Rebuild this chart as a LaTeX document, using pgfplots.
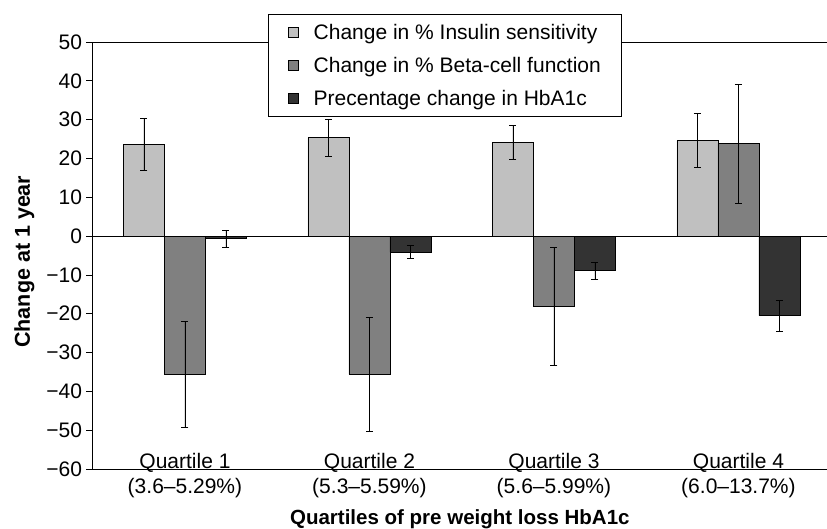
\documentclass[border=0pt]{standalone}
\usepackage{pgfplots}
\pgfplotsset{compat=1.18}
\usepackage{pgfplotstable}
\usepackage{fontspec}
\setmainfont{Liberation Sans}
\definecolor{cA}{HTML}{C0C0C0}
\definecolor{cB}{HTML}{808080}
\definecolor{cC}{HTML}{333333}
\pgfplotstableread{
x ins inse beta betae hb hbe
0 23.5 6.7 -35.6 13.6 -0.7 2.1
1 25.3 4.8 -35.6 14.6 -4.1 1.65
2 24.2 4.4 -18.2 15.2 -8.9 2.15
3 24.6 6.9 23.8 15.3 -20.5 4.0
}\data
\pgfplotsset{
  sq/.style={legend image code/.code={\draw[##1, draw=black, line width=0.6bp] (0bp,-5bp) rectangle (10bp,5bp);}},
  eb/.style={error bars/.cd, y dir=both, y explicit,
    error bar style={line width=0.8bp, black},
    error mark=-,
    error mark options={line width=0.8bp, mark size=3.5bp, black, rotate=90}},
}
\begin{document}
\begin{tikzpicture}[font=\fontsize{21bp}{25bp}\selectfont]
\begin{axis}[
  name=ax, scale only axis, width=734.3bp, height=427bp,
  xmin=-0.5, xmax=3.48, ymin=-60, ymax=50,
  ybar=0pt, bar width=0.2222,
  axis x line*=box, axis y line*=left,
  axis line style={line width=0.8bp, black},
  xtick={0,1,2,3},
  xticklabels={{Quartile 1\\(3.6–5.29\%)},{Quartile 2\\(5.3–5.59\%)},{Quartile 3\\(5.6–5.99\%)},{Quartile 4\\(6.0–13.7\%)}},
  xticklabel style={align=center, anchor=north, yshift=22.8bp, inner sep=0pt},
  x tick style={draw=none},
  ytick={-60,-50,...,50},
  yticklabels={−60,−50,−40,−30,−20,−10,0,10,20,30,40,50},
  y tick style={line width=0.8bp, black},
  tick align=outside, major tick length=6.5bp,
  yticklabel style={inner sep=0pt, xshift=-4bp},
  tick label style={font=\fontsize{21bp}{25bp}\selectfont},
  xlabel={Quartiles of pre weight loss HbA1c},
  ylabel={Change at 1 year},
  every axis x label/.style={at={(axis description cs:0.5,-0.1311)}, anchor=base, font=\fontsize{20.5bp}{24bp}\selectfont\bfseries},
  every axis y label/.style={at={(axis description cs:-0.0854,0.4855)}, anchor=base, rotate=90, font=\fontsize{21.5bp}{24bp}\selectfont\bfseries},
  legend style={at={(axis description cs:0.2391,1.0656)}, anchor=north west,
    draw=black, line width=0.8bp, fill=white, inner xsep=19bp, inner ysep=6bp,
    row sep=9bp, column sep=13.4bp,
    font=\fontsize{21bp}{25bp}\selectfont,
    nodes={inner sep=2bp, text height=17bp, text depth=3bp}},
  legend cell align=left,
]
\addplot[fill=cA, draw=black, line width=0.8bp, sq, eb] table[x=x, y=ins, y error=inse]{\data};
\addplot[fill=cB, draw=black, line width=0.8bp, sq, eb] table[x=x, y=beta, y error=betae]{\data};
\addplot[fill=cC, draw=black, line width=0.8bp, sq, eb] table[x=x, y=hb, y error=hbe]{\data};
\draw[black, line width=0.8bp] (axis cs:-0.5,0) -- (axis cs:3.48,0);
\legend{Change in \% Insulin sensitivity, Change in \% Beta-cell function, Precentage change in HbA1c}
\end{axis}
\pgfresetboundingbox
\path ([shift={(-92.7bp,-60bp)}]ax.south west) rectangle ([shift={(0bp,42bp)}]ax.north east);
\end{tikzpicture}
\end{document}
